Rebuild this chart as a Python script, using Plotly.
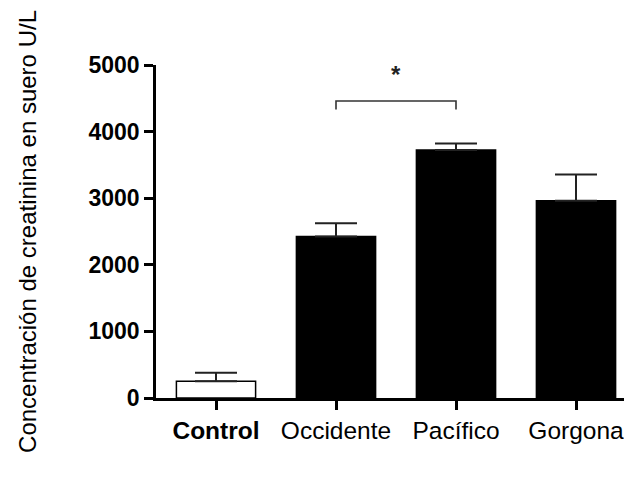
import plotly.graph_objects as go

categories = ["Control", "Occidente", "Pacífico", "Gorgona"]
means = [250, 2425, 3725, 2960]
sem_upper = [130, 200, 95, 395]
bar_fills = ["white", "black", "black", "black"]
y_ticks = [0, 1000, 2000, 3000, 4000, 5000]
y_title = "Concentración de creatinina en suero U/L"
sig_pair = (1, 2)
sig_bracket_y = 4460
sig_bracket_drop = 130
sig_star_y = 4850

FONT = "Liberation Sans, Arial, Helvetica, sans-serif"

xpos = list(range(len(categories)))
ticktext = ["<b>%s</b>" % c if i == 0 else c for i, c in enumerate(categories)]

fig = go.Figure()
fig.add_trace(go.Bar(
    x=xpos, y=means, width=0.66,
    marker=dict(color=bar_fills, line=dict(color="black", width=1.5)),
    error_y=dict(type="data", array=sem_upper, arrayminus=[0]*len(means),
                 symmetric=False, color="#222222", thickness=2, width=21),
    showlegend=False,
))

x0, x1 = sig_pair
fig.add_shape(type="path",
              path=f"M {x0} {sig_bracket_y - sig_bracket_drop} L {x0} {sig_bracket_y} "
                   f"L {x1} {sig_bracket_y} L {x1} {sig_bracket_y - sig_bracket_drop}",
              xref="x", yref="y", line=dict(color="#333333", width=1.6))
fig.add_annotation(x=(x0 + x1) / 2, y=sig_star_y, text="<b>*</b>", showarrow=False,
                   xref="x", yref="y", font=dict(family=FONT, size=24, color="#222222"))

fig.update_layout(
    width=624, height=479,
    margin=dict(l=156, r=0, t=65, b=81),
    plot_bgcolor="white", paper_bgcolor="white",
    font=dict(family=FONT, color="black"),
)
fig.update_xaxes(
    range=[-0.5, 3.4], tickmode="array", tickvals=xpos, ticktext=ticktext,
    showline=True, linecolor="black", linewidth=2.5,
    ticks="outside", ticklen=9, tickwidth=2.5, tickcolor="black",
    showgrid=False, zeroline=False, ticklabeloverflow="allow",
    tickfont=dict(family=FONT, size=24.5, color="black"),
)
fig.update_yaxes(
    range=[0, 5000], tickmode="array", tickvals=y_ticks,
    ticktext=["<b>%d</b>" % v for v in y_ticks],
    showline=True, linecolor="black", linewidth=2.5,
    ticks="outside", ticklen=9, tickwidth=2.5, tickcolor="black",
    showgrid=False, zeroline=False,
    tickfont=dict(family=FONT, size=23, color="black"),
    title=dict(text=y_title, font=dict(family=FONT, size=24, color="black"), standoff=46),
)

fig.write_html("out.html")
